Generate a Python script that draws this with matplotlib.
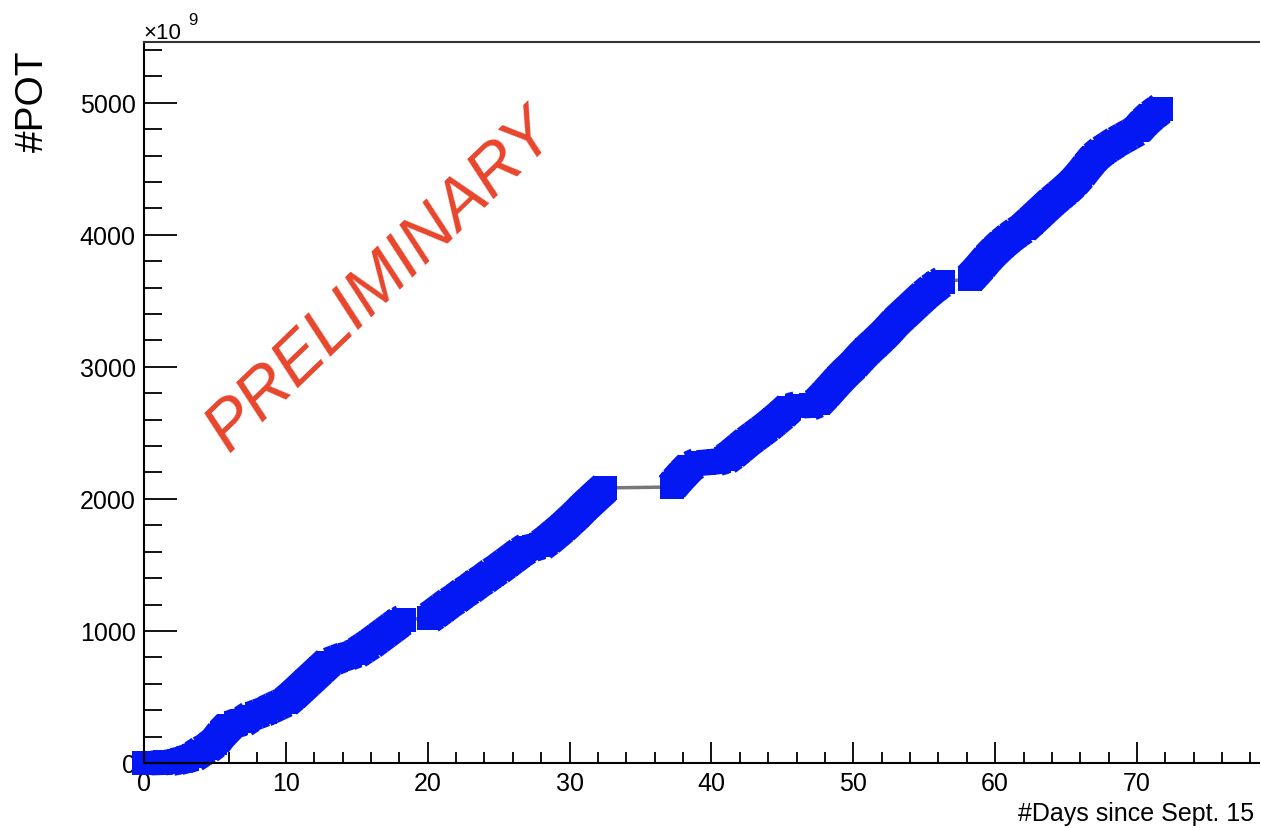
import numpy as np
import matplotlib
matplotlib.use("Agg")
import matplotlib.pyplot as plt
from matplotlib.ticker import MultipleLocator
from matplotlib.collections import LineCollection

plt.rcParams['font.family'] = ['Liberation Sans', 'DejaVu Sans']

# Cumulative protons on target (x 10^9) vs days since Sept. 15
# period 1
days_1 = [0, 0.5, 1, 1.5, 2, 2.5, 3, 3.5, 4, 4.5, 5, 5.5, 6, 6.5, 7, 7.5, 8, 8.5,
          9, 9.5, 10, 10.5, 11, 11.5, 12, 12.5, 13, 13.5, 14, 14.5, 15, 15.5,
          16, 16.5, 17, 17.5, 18, 18.3]
pot_1 = [0, 0, 2, 4, 8, 18, 32, 50, 85, 115, 155, 225, 280, 300, 315, 350, 370, 390,
         415, 440, 465, 510, 560, 610, 660, 710, 760, 780, 800, 815, 835, 870,
         905, 945, 985, 1025, 1065, 1083]
# period 2
days_2 = [20.1, 20.5, 21, 21.5, 22, 22.5, 23, 23.5, 24, 24.5, 25, 25.5, 26, 26.5,
          27, 27.5, 28, 28.5, 29, 29.5, 30, 30.5, 31, 31.5, 32, 32.5]
pot_2 = [1100, 1130, 1170, 1210, 1245, 1285, 1320, 1360, 1395, 1435, 1470, 1510, 1550, 1590,
         1625, 1635, 1650, 1690, 1735, 1780, 1830, 1880, 1935, 1985, 2035, 2083]
# period 3
days_3 = [37.2, 37.5, 38, 38.5, 39, 39.5, 40, 40.5, 41, 41.5, 42, 42.5, 43, 43.5,
          44, 44.5, 45, 45.5, 46, 46.5, 47, 47.5, 48, 48.5, 49, 49.5, 50, 50.5,
          51, 51.5, 52, 52.5, 53, 53.5, 54, 54.5, 55, 55.5, 56, 56.3]
pot_3 = [2090, 2130, 2190, 2245, 2270, 2275, 2280, 2285, 2300, 2340, 2385, 2430, 2470, 2510,
         2550, 2595, 2640, 2690, 2705, 2705, 2708, 2730, 2785, 2845, 2905, 2960, 3010, 3070,
         3125, 3175, 3225, 3280, 3340, 3390, 3440, 3490, 3540, 3585, 3625, 3644]
# period 4
days_4 = [58.2, 58.5, 59, 59.5, 60, 60.5, 61, 61.5, 62, 62.5, 63, 63.5, 64, 64.5,
          65, 65.5, 66, 66.5, 67, 67.5, 68, 68.5, 69, 69.5, 70, 70.5, 71, 71.5, 71.7]
pot_4 = [3667, 3700, 3760, 3825, 3880, 3930, 3975, 4015, 4050, 4100, 4150, 4200, 4250, 4295,
         4340, 4390, 4450, 4520, 4585, 4630, 4665, 4700, 4730, 4760, 4790, 4850, 4900, 4940, 4955]

periods = [(days_1, pot_1), (days_2, pot_2), (days_3, pot_3), (days_4, pot_4)]
days = np.array(days_1 + days_2 + days_3 + days_4)
pot = np.array(pot_1 + pot_2 + pot_3 + pot_4)

blue = '#0418F4'
msize = 17.3  # square side in points (~24 px)
dpi = 100

fig = plt.figure(figsize=(12.61, 8.29), dpi=dpi)
ax = fig.add_axes([144 / 1261, 1 - 764 / 829, (1259 - 144) / 1261, (764 - 43) / 829])
ax.set_xlim(0, 78.6)
ax.set_ylim(0, 5460)

# thin grey line joining all points (visible in the gaps)
ax.plot(days, pot, color='#777777', lw=2.5, zorder=1)

# dense square markers merge into a band: fill between neighbouring squares
# with a line whose width matches the square swept along the segment
for d, p in periods:
    xy = np.column_stack([d, p]).astype(float)
    disp = ax.transData.transform(xy)
    segs, widths = [], []
    for i in range(len(xy) - 1):
        dx, dy = disp[i + 1] - disp[i]
        L = np.hypot(dx, dy)
        segs.append(xy[i:i + 2])
        widths.append(msize * (abs(dx) + abs(dy)) / L)
    lc = LineCollection(segs, linewidths=widths, colors=blue, capstyle='butt',
                        zorder=2, clip_on=False)
    ax.add_collection(lc)

ax.plot(days, pot, ls='none', marker='s', markersize=msize, markeredgewidth=0,
        color=blue, zorder=3, clip_on=False)

ax.xaxis.set_major_locator(MultipleLocator(10))
ax.xaxis.set_minor_locator(MultipleLocator(2))
ax.yaxis.set_major_locator(MultipleLocator(1000))
ax.yaxis.set_minor_locator(MultipleLocator(200))

ax.tick_params(axis='x', which='major', direction='in', length=15, width=1.3,
               labelsize=18, pad=6, top=False)
ax.tick_params(axis='x', which='minor', direction='in', length=8, width=1.3, top=False)
ax.tick_params(axis='y', which='major', direction='in', length=24, width=1.3,
               labelsize=18, pad=6, right=False)
ax.tick_params(axis='y', which='minor', direction='in', length=13, width=1.3, right=False)

ax.spines['right'].set_visible(False)
for s in ['left', 'bottom', 'top']:
    ax.spines[s].set_linewidth(1.5)
    ax.spines[s].set_zorder(4)
ax.spines['top'].set_color('#333333')

fig.text(1254 / 1261, 1 - 814 / 829, '#Days since Sept. 15', ha='right', va='center', fontsize=18)
fig.text(33 / 1261, 1 - 101 / 829, '#POT', rotation=90, ha='center', va='center', fontsize=28)
fig.text(143 / 1261, 1 - 39 / 829, '\u00d710', ha='left', va='baseline', fontsize=16)
fig.text(188 / 1261, 1 - 25 / 829, '9', ha='left', va='baseline', fontsize=12)

fig.text(381 / 1261, 1 - 281 / 829, 'PRELIMINARY', rotation=44, rotation_mode='anchor',
         ha='center', va='center', fontsize=49, style='italic', color='#E8452C')

fig.savefig('out.png', dpi=dpi)
